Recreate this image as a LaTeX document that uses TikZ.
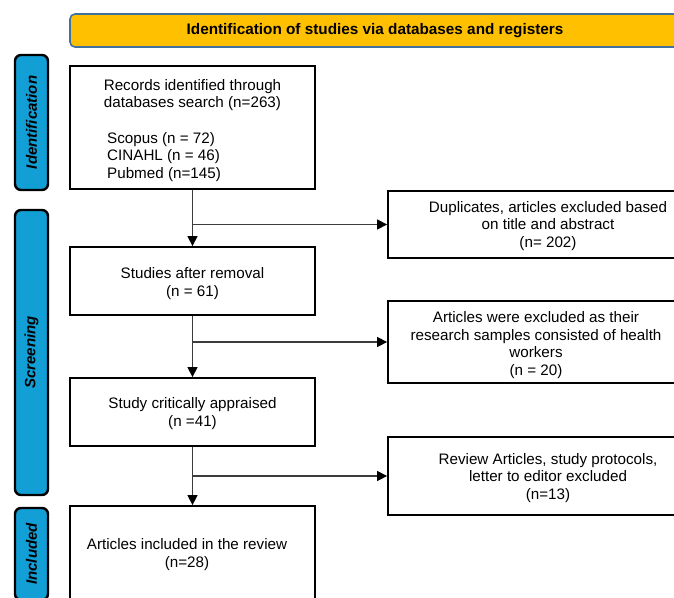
\documentclass[tikz,border=0pt]{standalone}
\usepackage{fontspec}
\setmainfont{Liberation Sans}
\usetikzlibrary{arrows.meta}
\definecolor{hdrfill}{HTML}{FFC000}
\definecolor{hdrline}{HTML}{41719C}
\definecolor{barfill}{HTML}{119FD6}
\definecolor{linkgray}{HTML}{3C3C3C}
\begin{document}
\begin{tikzpicture}[x=1pt,y=-1pt,
  font=\fontsize{15.2}{17.5}\selectfont,
  box/.style={draw=black,line width=1.8pt,inner sep=0pt},
  txt/.style={align=center,inner sep=0pt,yshift=-2pt},
  bar/.style={draw=black,line width=2.4pt,fill=barfill,rounded corners=6pt,
    rotate=90,minimum height=33pt,inner sep=0pt,
    font=\fontsize{15}{17}\selectfont\bfseries\itshape},
  link/.style={draw=linkgray,line width=1.4pt,-{Triangle[length=10pt,width=10pt,color=black]}}]
  \useasboundingbox (0,0) rectangle (674,597);
  \clip (0,0) rectangle (674,597);

  % header
  \node[draw=hdrline,line width=1.6pt,fill=hdrfill,rounded corners=5pt,
    minimum width=610pt,minimum height=33pt,inner sep=0pt,
    font=\fontsize{15.3}{17}\selectfont\bfseries] (head) at (375,30.5)
    {Identification of studies via databases and registers};

  % phase bars
  \node[bar,minimum width=135pt] (idbar) at (31.5,122.5) {Identification};
  \node[bar,minimum width=285pt] (scbar) at (31.5,352.5) {Screening};
  \node[bar,minimum width=92pt] (inbar) at (31.5,554) {Included};

  % main column
  \node[box,minimum width=245pt,minimum height=123pt] (rec) at (192.5,127.5) {};
  \node[txt] (rectxt) at (192.5,93)
    {Records identified through\\databases search (n=263)};
  \node[txt,align=left,anchor=west] (srctxt) at (107,155)
    {Scopus (n = 72)\\CINAHL (n = 46)\\Pubmed (n=145)};
  \node[box,minimum width=245pt,minimum height=68pt] (rem) at (192.5,281) {};
  \node[txt] (remtxt) at (192.5,281.5) {Studies after removal\\(n = 61)};
  \node[box,minimum width=245pt,minimum height=68pt] (app) at (192.5,412) {};
  \node[txt] (apptxt) at (192.5,411.5) {Study critically appraised\\(n =41)};
  \node[box,minimum width=245pt,minimum height=94pt] (inc) at (192.5,553) {};
  \node[txt] (inctxt) at (187,552.5) {Articles included in the review\\(n=28)};

  % excluded column
  \node[box,minimum width=320pt,minimum height=67pt] (dup) at (548,224.5) {};
  \node[txt] (duptxt) at (548,224)
    {Duplicates, articles excluded based\\on title and abstract\\(n= 202)};
  \node[box,minimum width=320pt,minimum height=82pt] (hw) at (548,342) {};
  \node[txt] (hwtxt) at (536,343)
    {Articles were excluded as their\\research samples consisted of health\\workers\\(n = 20)};
  \node[box,minimum width=320pt,minimum height=78pt] (rev) at (548,476) {};
  \node[txt] (revtxt) at (548,476)
    {Review Articles, study protocols,\\letter to editor excluded\\(n=13)};

  % connectors
  \coordinate (s1) at (rec.south |- dup.west);
  \coordinate (s2) at (rem.south |- hw.west);
  \coordinate (s3) at (app.south |- rev.west);
  \draw[link] (rec.south) -- (rem.north);
  \draw[link] (rem.south) -- (app.north);
  \draw[link] (app.south) -- (inc.north);
  \draw[link] (s1) -- (dup.west);
  \draw[link] (s2) -- (hw.west);
  \draw[link] (s3) -- (rev.west);
\end{tikzpicture}
\end{document}
